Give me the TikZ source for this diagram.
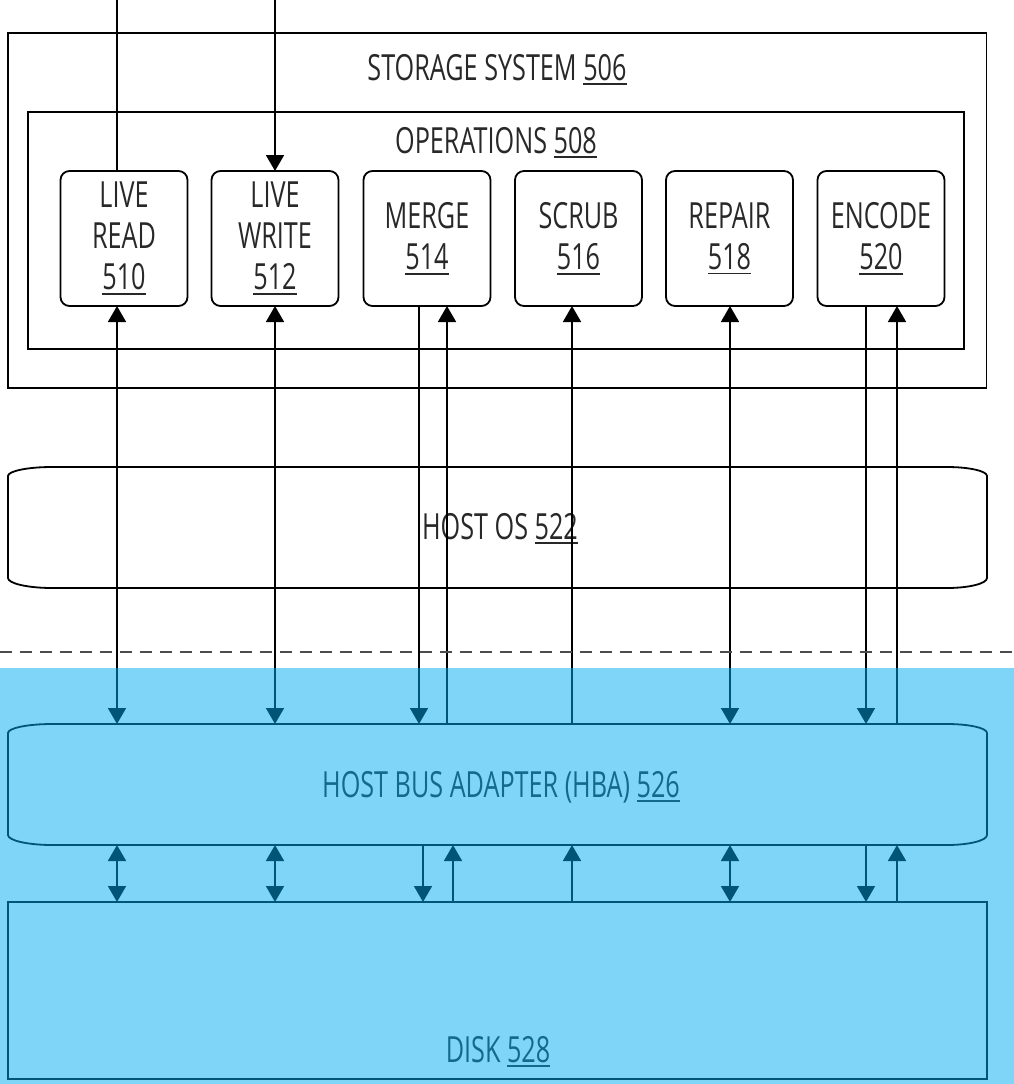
\documentclass[tikz,border=0pt]{standalone}
\usepackage{fontspec}
\setmainfont{Open Sans}[FakeStretch=0.7]
\usetikzlibrary{arrows.meta}
\definecolor{ovl}{RGB}{0,171,239}
\definecolor{txt}{RGB}{40,40,40}
\newsavebox\rnbox
\newcommand\refno[1]{\sbox\rnbox{#1}\rlap{\rule[-5pt]{\wd\rnbox}{1.8pt}}\usebox\rnbox}
\newcommand\busoutline[1]{%
  \draw[ln] ([xshift=-40pt]#1.north east) .. controls ([xshift=-18pt]#1.north east) and ([yshift=-4pt]#1.north east) .. ([yshift=-9pt]#1.north east)
  -- ([yshift=10pt]#1.south east) .. controls ([yshift=4.5pt]#1.south east) and ([xshift=-18pt]#1.south east) .. ([xshift=-40pt]#1.south east)
  -- ([xshift=44pt]#1.south west) .. controls ([xshift=20pt]#1.south west) and ([yshift=4.5pt]#1.south west) .. ([yshift=10pt]#1.south west)
  -- ([yshift=-9pt]#1.north west) .. controls ([yshift=-4pt]#1.north west) and ([xshift=20pt]#1.north west) .. ([xshift=44pt]#1.north west)
  -- cycle;}
\begin{document}
\begin{tikzpicture}[x=1pt,y=-1pt,
  ln/.style={line width=1.8pt, draw=black},
  >={Triangle[width=18pt,length=16pt]},
  lbl/.style={font=\fontsize{36}{41}\selectfont, text=txt, anchor=base, inner sep=0pt},
  opbox/.style={ln, rounded corners=9pt, minimum width=127pt, minimum height=135pt, align=center,
    font=\fontsize{36}{41}\selectfont, text=txt, inner sep=0pt, outer sep=0pt},
  frame/.style={ln, minimum width=#1, inner sep=0pt, outer sep=0pt},
  area/.style={inner sep=0pt, outer sep=0pt}]
\path[use as bounding box] (0,0) rectangle (1014,1084);

% containers
\node[frame=978.5pt, minimum height=355pt] (ss) at (497.25,210.5) {};
\node[frame=936pt, minimum height=237pt] (ops) at (496,230.5) {};
\node[lbl] (sstxt) at (497,80) {STORAGE SYSTEM \refno{506}};
\node[lbl] (opstxt) at (496,153) {OPERATIONS \refno{508}};

% operations
\node[opbox] (lr) at (124,238.5) {LIVE\\READ\\\refno{510}};
\node[opbox] (lw) at (275,238.5) {LIVE\\WRITE\\\refno{512}};
\node[opbox] (mg) at (427,238.5) {MERGE\\\refno{514}};
\node[opbox] (sc) at (578.5,238.5) {SCRUB\\\refno{516}};
\node[opbox] (rp) at (729.5,238.5) {REPAIR\\\refno{518}};
\node[opbox] (en) at (881,238.5) {ENCODE\\\refno{520}};

% host os, hba, disk
\node[area, minimum width=979pt, minimum height=121pt] (hos) at (497.5,527.5) {};
\node[area, minimum width=979pt, minimum height=121pt] (hba) at (497.5,784.5) {};
\node[frame=979pt, minimum height=177pt] (disk) at (497.5,990.5) {};
\busoutline{hos}
\busoutline{hba}
\node[lbl] (hostxt) at (500,539) {HOST OS \refno{522}};
\node[lbl] (hbatxt) at (501,797) {HOST BUS ADAPTER (HBA) \refno{526}};
\node[lbl] (disktxt) at (498,1062) {DISK \refno{528}};

% column coordinates
\coordinate (c117) at (117,0);
\coordinate (c275) at (275,0);
\coordinate (c419) at (419,0);
\coordinate (c447) at (447,0);
\coordinate (c423) at (423,0);
\coordinate (c453) at (453,0);
\coordinate (c572) at (572,0);
\coordinate (c730) at (730,0);
\coordinate (c866) at (866,0);
\coordinate (c897) at (897,0);

% incoming from top
\draw[ln] (lr.north -| c117) -- (c117);
\draw[ln,->] (c275) -- (lw.north -| c275);

% ops <-> hba
\draw[ln,<->] (lr.south -| c117) -- (hba.north -| c117);
\draw[ln,<->] (lw.south -| c275) -- (hba.north -| c275);
\draw[ln,->] (mg.south -| c419) -- (hba.north -| c419);
\draw[ln,->] (hba.north -| c447) -- (mg.south -| c447);
\draw[ln,->] (hba.north -| c572) -- (sc.south -| c572);
\draw[ln,<->] (rp.south -| c730) -- (hba.north -| c730);
\draw[ln,->] (en.south -| c866) -- (hba.north -| c866);
\draw[ln,->] (hba.north -| c897) -- (en.south -| c897);

% hba <-> disk
\draw[ln,<->] (hba.south -| c117) -- (disk.north -| c117);
\draw[ln,<->] (hba.south -| c275) -- (disk.north -| c275);
\draw[ln,->] (hba.south -| c423) -- (disk.north -| c423);
\draw[ln,->] (disk.north -| c453) -- (hba.south -| c453);
\draw[ln,->] (disk.north -| c572) -- (hba.south -| c572);
\draw[ln,<->] (hba.south -| c730) -- (disk.north -| c730);
\draw[ln,->] (hba.south -| c866) -- (disk.north -| c866);
\draw[ln,->] (disk.north -| c897) -- (hba.south -| c897);

% dashed boundary
\coordinate (dl) at (0,652);
\coordinate (dr) at (1014,652);
\draw[line width=1.8pt, draw=black!70, dash pattern=on 12pt off 8pt] (dl) -- (dr);

% blue overlay
\fill[ovl, opacity=0.5] (0,668) rectangle (1014,1084);
\end{tikzpicture}
\end{document}
